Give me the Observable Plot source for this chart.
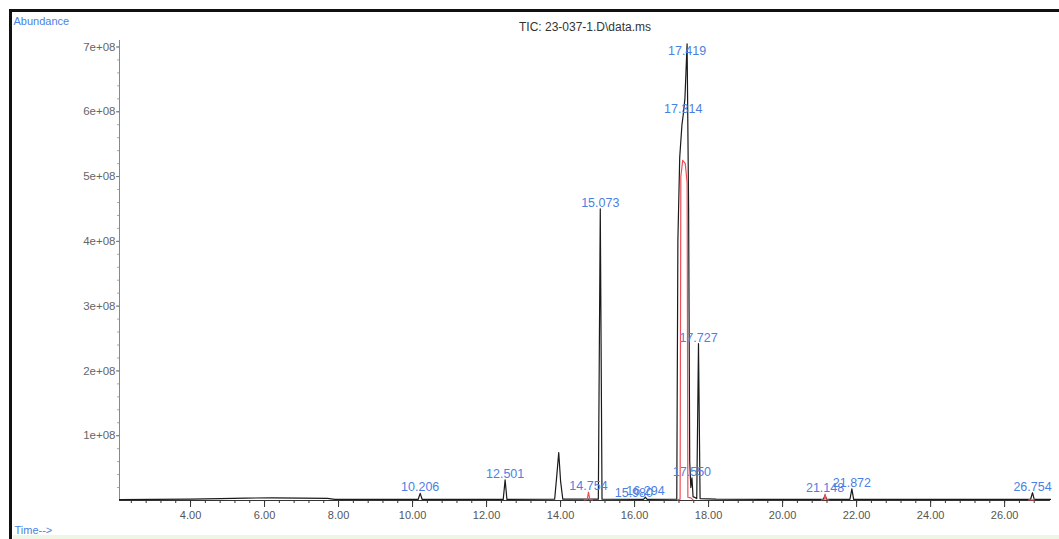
<!DOCTYPE html>
<html>
<head>
<meta charset="utf-8">
<script src="https://cdn.jsdelivr.net/npm/d3@7"></script>
<script src="https://cdn.jsdelivr.net/npm/@observablehq/plot@0.6"></script>
<style>
  html, body { margin: 0; padding: 0; background: #fff; overflow: hidden; }
  #chart svg { display: block; }
</style>
</head>
<body>
<div id="chart"></div>
<script>
// Black TIC trace (time in minutes, abundance)
const ticTimes = [2.08, 3.0, 4.0, 4.8, 5.5, 6.2, 7.0, 7.7, 7.9, 9.0, 10.15, 10.206, 10.26,
  12.45, 12.501, 12.55, 13.84, 13.90, 13.95, 14.00, 14.06, 15.02, 15.073, 15.12,
  16.24, 16.294, 16.34, 17.14, 17.17, 17.22, 17.28, 17.314, 17.36, 17.419, 17.46, 17.49,
  17.52, 17.55, 17.58, 17.68, 17.727, 17.77, 18.2, 19.5, 21.10, 21.148, 21.19,
  21.82, 21.872, 21.92, 26.70, 26.754, 26.80, 27.24];
const ticAbund = [1.5e6, 1.6e6, 2.2e6, 3.0e6, 3.8e6, 4.0e6, 3.6e6, 3.2e6, 1.8e6, 1.6e6, 1.6e6, 1.1e7, 1.6e6,
  1.6e6, 3.2e7, 1.6e6, 2.0e6, 4.0e7, 7.4e7, 3.0e7, 2.0e6, 2.0e6, 4.5e8, 2.0e6,
  1.6e6, 5.0e6, 1.6e6, 2.0e6, 4.0e8, 5.3e8, 5.8e8, 5.95e8, 6.2e8, 7.05e8, 4.5e8, 6.0e7,
  2.0e7, 3.5e7, 6.0e6, 3.0e6, 2.42e8, 3.0e6, 2.2e6, 1.8e6, 1.6e6, 8.0e6, 1.6e6,
  1.6e6, 1.8e7, 1.6e6, 1.6e6, 1.2e7, 1.6e6, 1.6e6];

// Red trace segments
const redTimes = [14.64, 14.72, 14.754, 14.79, 14.86,
  17.16, 17.23, 17.25, 17.30, 17.37, 17.42, 17.44, 17.52, 17.58,
  21.05, 21.12, 21.148, 21.18, 21.25,
  26.65, 26.80];
const redAbund = [1.0e6, 1.5e6, 1.3e7, 1.5e6, 1.0e6,
  1.0e6, 2.0e6, 5.0e8, 5.25e8, 5.2e8, 4.9e8, 5.0e6, 4.0e6, 1.0e6,
  1.0e6, 1.5e6, 1.0e7, 1.5e6, 1.0e6,
  1.0e6, 1.0e6];
const redSegment = [1, 1, 1, 1, 1, 2, 2, 2, 2, 2, 2, 2, 2, 2, 3, 3, 3, 3, 3, 4, 4];

// Peak labels
const peakLabels = ["10.206", "12.501", "14.754", "15.980", "16.294", "15.073", "17.314", "17.419",
  "17.550", "17.727", "21.148", "21.872", "26.754"];
const peakTimes = [10.206, 12.501, 14.754, 15.98, 16.294, 15.073, 17.314, 17.419, 17.55, 17.727,
  21.148, 21.872, 26.754];
const peakHeights = [1.1e7, 3.2e7, 1.3e7, 2.0e6, 5.0e6, 4.5e8, 5.95e8, 6.85e8, 3.5e7, 2.42e8,
  1.0e7, 1.8e7, 1.2e7];

// Axis ticks
const xTicks = [4, 6, 8, 10, 12, 14, 16, 18, 20, 22, 24, 26];
const yTicks = [1e8, 2e8, 3e8, 4e8, 5e8, 6e8, 7e8];
const titleText = "TIC: 23-037-1.D\\data.ms";

const tic = ticTimes.map((t, i) => ({t, a: ticAbund[i]}));
const red = redTimes.map((t, i) => ({t, a: redAbund[i], s: redSegment[i]}));
const peaks = peakLabels.map((l, i) => ({l, t: peakTimes[i], h: peakHeights[i]}));
const xMinor = d3.range(6, 69).map(k => k * 0.4).filter(v => v > 2.1 && v < 27.2);
const yMinor = d3.range(1, 36).map(k => k * 2e7);

const blue = "#4c7fe3";
const font = "Liberation Sans, Arial, sans-serif";

const chart = Plot.plot({
  width: 1059,
  height: 539,
  marginLeft: 119,
  marginRight: 9,
  marginTop: 40,
  marginBottom: 39,
  style: {background: "#fff", fontFamily: font, color: "#555"},
  x: {domain: [2.08, 27.24], label: null},
  y: {domain: [0, 7.1e8], label: null},
  marks: [
    Plot.axisX(xMinor, {tickSize: 3, tickFormat: () => "", stroke: "#333", label: null}),
    Plot.axisX(xTicks, {tickSize: 7, tickPadding: 4, tickFormat: d => d.toFixed(2), fontSize: 11, fill: "#555", stroke: "#333", label: null}),
    Plot.axisY(yMinor, {tickSize: 2, tickFormat: () => "", stroke: "#aaa", label: null}),
    Plot.axisY(yTicks, {tickSize: 3, tickPadding: 1, tickFormat: d => (d / 1e8) + "e+08", fontSize: 11.5, fill: "#666", stroke: "#777", label: null}),
    Plot.ruleX([2.08], {y1: 0, y2: 7.1e8, stroke: "#888"}),
    Plot.ruleY([0], {stroke: "#333"}),
    Plot.line(tic, {x: "t", y: "a", stroke: "#1a1a1a", strokeWidth: 1.2}),
    Plot.line(red, {x: "t", y: "a", z: "s", stroke: "#ee4d55", strokeWidth: 1.2}),
    Plot.text(peaks, {x: "t", y: "h", text: "l", fill: blue, fontSize: 12.5, textAnchor: "middle", lineAnchor: "bottom", dy: -2}),
    Plot.text([titleText], {frameAnchor: "top", dy: -13, fontSize: 12, fill: "#333", lineAnchor: "middle"}),
    Plot.text(["Abundance"], {frameAnchor: "top-left", dx: -106, dy: -19, fontSize: 11, fill: blue, textAnchor: "start", lineAnchor: "middle"}),
    Plot.text(["Time-->"], {frameAnchor: "bottom-left", dx: -105, dy: 30, fontSize: 11, fill: blue, textAnchor: "start", lineAnchor: "middle"})
  ]
});

const svg = d3.select(chart);
svg.insert("rect", ":first-child").attr("x", 13).attr("y", 535).attr("width", 1046).attr("height", 4).attr("fill", "#eef7e6");
svg.append("rect").attr("x", 9).attr("y", 9).attr("width", 3).attr("height", 530).attr("fill", "#111");
svg.append("rect").attr("x", 9).attr("y", 9).attr("width", 1050).attr("height", 3).attr("fill", "#111");

document.getElementById("chart").appendChild(chart);
</script>
</body>
</html>
